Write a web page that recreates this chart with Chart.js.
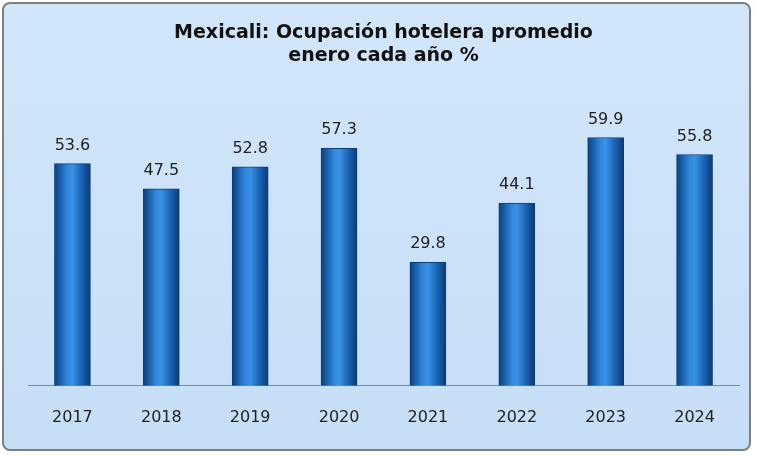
<!DOCTYPE html>
<html><head><meta charset="utf-8">
<script src="https://cdn.jsdelivr.net/npm/chart.js@4"></script>
<style>
html,body{margin:0;padding:0;background:#fff;}
#wrap{position:absolute;left:2px;top:2px;width:749px;height:449px;border:2px solid #7f7f7f;border-radius:8px;
background:linear-gradient(180deg,#d2e6fa 0%,#c6def6 100%);box-sizing:border-box;overflow:hidden;}
</style></head><body>
<div id="wrap"><canvas id="c" width="745" height="445"></canvas></div>
<script>
const categories=["2017","2018","2019","2020","2021","2022","2023","2024"];
const values=[53.6,47.5,52.8,57.3,29.8,44.1,59.9,55.8];
const titleLines=["Mexicali: Ocupación hotelera promedio","enero cada año %"];
const labelPlugin={id:'lbl',afterDatasetsDraw(ch){
 const ctx=ch.ctx;const meta=ch.getDatasetMeta(0);
 ctx.save();ctx.font='16px "DejaVu Sans", Arial';ctx.fillStyle='#222';ctx.textAlign='center';ctx.textBaseline='bottom';
 meta.data.forEach((b,i)=>ctx.fillText(values[i].toFixed(1),b.x,b.y-10));ctx.restore();}};
function grad(c){const ch=c.chart;const sx=ch.scales&&ch.scales.x;
 if(!sx||c.dataIndex===undefined)return '#1f6fc0';
 const cx=sx.getPixelForValue(c.dataIndex);if(!isFinite(cx))return '#1f6fc0';
 const w=36;const x0=cx-w/2;
 const g=ch.ctx.createLinearGradient(x0,0,x0+w,0);
 g.addColorStop(0,'#0a3f7e');g.addColorStop(0.35,'#2f86dc');g.addColorStop(0.5,'#3a92e6');g.addColorStop(0.75,'#1b64b6');g.addColorStop(1,'#0a3a74');return g;}
new Chart(document.getElementById('c'),{type:'bar',
data:{labels:categories,datasets:[{data:values,backgroundColor:grad,borderColor:'#0b3d78',borderWidth:1,barThickness:36}]},
options:{responsive:false,animation:false,
layout:{padding:{left:24,right:10,top:0,bottom:8}},
plugins:{legend:{display:false},tooltip:{enabled:false},
 title:{display:true,text:titleLines,font:{family:'"DejaVu Sans", Arial',size:19,weight:'bold'},color:'#111',padding:{top:18,bottom:28},lineHeight:1.5}},
scales:{y:{min:0,max:70,display:false},
 x:{grid:{display:false},border:{color:'#888'},ticks:{color:'#222',font:{family:'"DejaVu Sans", Arial',size:16},padding:14}}}},
plugins:[labelPlugin]});
</script></body></html>
